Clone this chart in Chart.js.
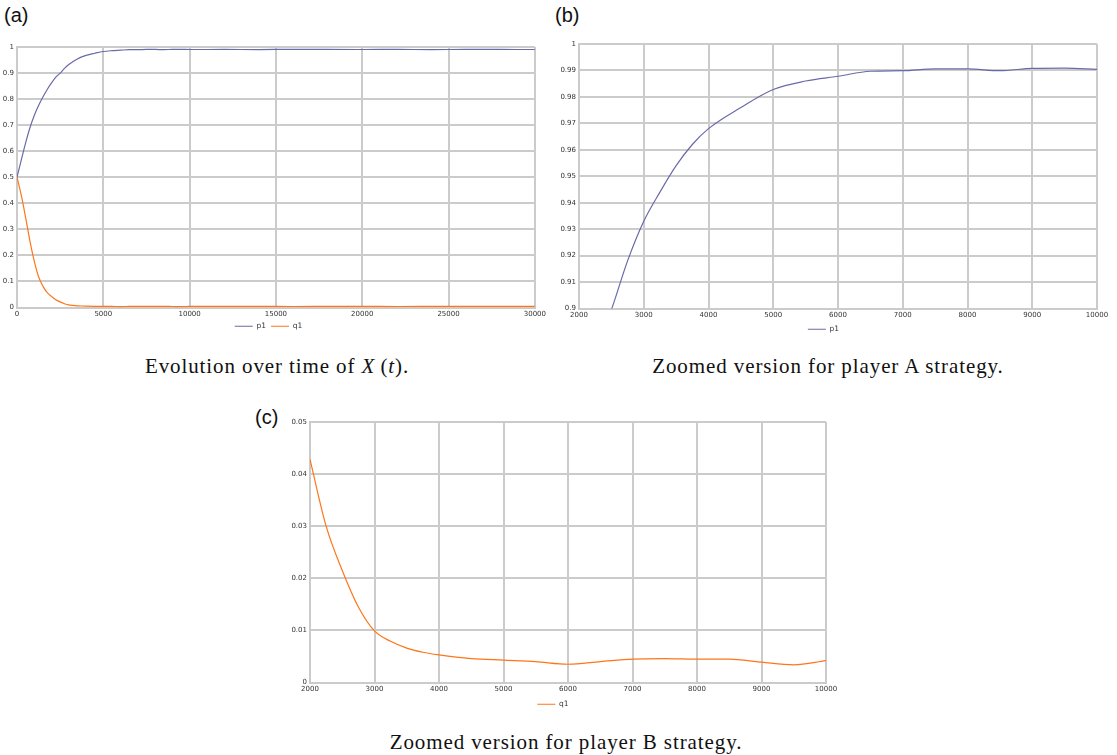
<!DOCTYPE html>
<html>
<head>
<meta charset="utf-8">
<script src="https://cdn.jsdelivr.net/npm/chart.js@4.4.1/dist/chart.umd.min.js"></script>
<style>
  body { margin: 0; width: 1117px; height: 755px; background: #fff; position: relative; overflow: hidden; }
  canvas { position: absolute; }
  .tag { position: absolute; font-family: "Liberation Sans", Arial, sans-serif; font-size: 20px; color: #111; line-height: 22px; }
  .cap { position: absolute; font-family: "Liberation Serif", serif; font-size: 21px; letter-spacing: 0.9px; color: #111;
         line-height: 22px; white-space: nowrap; transform: translateX(-50%); }
</style>
</head>
<body>
<div class="tag" style="left:4px;top:4px">(a)</div>
<div class="tag" style="left:555px;top:4px">(b)</div>
<div class="tag" style="left:255px;top:406px">(c)</div>

<canvas id="chartA" width="548" height="303" style="left:0;top:37px"></canvas>
<canvas id="chartB" width="562" height="309" style="left:550px;top:34px"></canvas>
<canvas id="chartC" width="562" height="306" style="left:280px;top:412px"></canvas>

<div class="cap" style="left:277px;top:355px">Evolution over time of <i>X</i>&#8201;(<i>t</i>).</div>
<div class="cap" style="left:828px;top:355px">Zoomed version for player A strategy.</div>
<div class="cap" style="left:566px;top:731px">Zoomed version for player B strategy.</div>

<script>
// time steps and the two strategy series
const time = [0, 250, 500, 750, 1000, 1250, 1500, 1750, 2000, 2250, 2500, 2750, 3000, 3250, 3500, 3750,
              4000, 4500, 5000, 5500, 6000, 6500, 7000, 7500, 8000, 8500, 9000, 9500, 10000,
              12000, 14000, 16000, 18000, 20000, 22000, 24000, 26000, 28000, 30000];
const p1 = [0.5, 0.567, 0.632, 0.69, 0.737, 0.775, 0.808, 0.837, 0.862, 0.884, 0.8995, 0.918, 0.933, 0.944, 0.954, 0.962,
            0.968, 0.976, 0.9828, 0.986, 0.9878, 0.9897, 0.9899, 0.9906, 0.9906, 0.9899, 0.9908, 0.9909, 0.9904,
            0.9905, 0.9902, 0.9908, 0.9906, 0.9904, 0.9907, 0.9902, 0.9906, 0.9905, 0.9904];
const q1 = [0.5, 0.43, 0.345, 0.255, 0.178, 0.118, 0.082, 0.057, 0.0428, 0.030, 0.0215, 0.0145, 0.0099, 0.0079, 0.0066, 0.0058,
            0.0053, 0.0046, 0.0043, 0.0040, 0.0035, 0.0040, 0.0045, 0.0046, 0.0045, 0.0045, 0.0039, 0.0034, 0.0042,
            0.0040, 0.0043, 0.0038, 0.0041, 0.0044, 0.0039, 0.0042, 0.0045, 0.0040, 0.0042];

// tick values
const xTicksA = [0, 5000, 10000, 15000, 20000, 25000, 30000];
const yTicksA = [0, 0.1, 0.2, 0.3, 0.4, 0.5, 0.6, 0.7, 0.8, 0.9, 1];
const xTicksZoom = [2000, 3000, 4000, 5000, 6000, 7000, 8000, 9000, 10000];
const yTicksB = [0.9, 0.91, 0.92, 0.93, 0.94, 0.95, 0.96, 0.97, 0.98, 0.99, 1];
const yTicksC = [0, 0.01, 0.02, 0.03, 0.04, 0.05];

const P1_COLOR = '#6a6aa8';
const Q1_COLOR = '#ff7518';
const GRID = '#cbcbcb';
const TICK_FONT = { family: 'DejaVu Sans', size: 7 };

function points(values, from, to) {
    const out = [];
    time.forEach((t, i) => {
        if (t >= from && t <= to) out.push({ x: t, y: values[i] });
    });
    return out;
}

function series(label, values, color, from, to) {
    return {
        label: label,
        data: points(values, from, to),
        borderColor: color,
        backgroundColor: color,
        borderWidth: 1.2,
        pointRadius: 0,
        cubicInterpolationMode: 'monotone',
        fill: false
    };
}

function fmt(v) {
    return String(parseFloat(Number(v).toFixed(4)));
}

function makeChart(id, datasets, xr, yr, yWidth, padRight, legendPad) {
    const ctx = document.getElementById(id).getContext('2d');
    return new Chart(ctx, {
        type: 'line',
        data: { datasets: datasets },
        options: {
            responsive: false,
            animation: false,
            layout: { padding: { top: 10, right: padRight, bottom: 0, left: 0 } },
            scales: {
                x: {
                    type: 'linear',
                    min: xr[0],
                    max: xr[xr.length - 1],
                    afterBuildTicks: s => { s.ticks = xr.map(v => ({ value: v })); },
                    afterFit: s => { s.height = 10; },
                    grid: { color: GRID, lineWidth: 2, drawTicks: false },
                    border: { color: GRID, width: 2 },
                    ticks: { font: TICK_FONT, color: '#333', padding: 2, maxRotation: 0, autoSkip: false,
                             callback: v => fmt(v) }
                },
                y: {
                    type: 'linear',
                    min: yr[0],
                    max: yr[yr.length - 1],
                    afterBuildTicks: s => { s.ticks = yr.map(v => ({ value: v })); },
                    afterFit: s => { s.width = yWidth; },
                    grid: { color: GRID, lineWidth: 2, drawTicks: false },
                    border: { color: GRID, width: 2 },
                    ticks: { font: TICK_FONT, color: '#333', padding: 3, callback: v => fmt(v) }
                }
            },
            plugins: {
                tooltip: { enabled: false },
                legend: {
                    position: 'bottom',
                    labels: {
                        usePointStyle: true,
                        pointStyle: 'line',
                        pointStyleWidth: 18,
                        font: { family: 'DejaVu Sans', size: 7.5 },
                        color: '#333',
                        padding: legendPad
                    }
                }
            }
        }
    });
}

makeChart('chartA', [
    series('p1', p1, P1_COLOR, 0, 30000),
    series('q1', q1, Q1_COLOR, 0, 30000)
], xTicksA, yTicksA, 17, 11, 5);

makeChart('chartB', [
    series('p1', p1, P1_COLOR, 2000, 10000)
], xTicksZoom, yTicksB, 29, 15, 7);

makeChart('chartC', [
    series('q1', q1, Q1_COLOR, 2000, 10000)
], xTicksZoom, yTicksC, 30, 16, 8);
</script>
</body>
</html>
